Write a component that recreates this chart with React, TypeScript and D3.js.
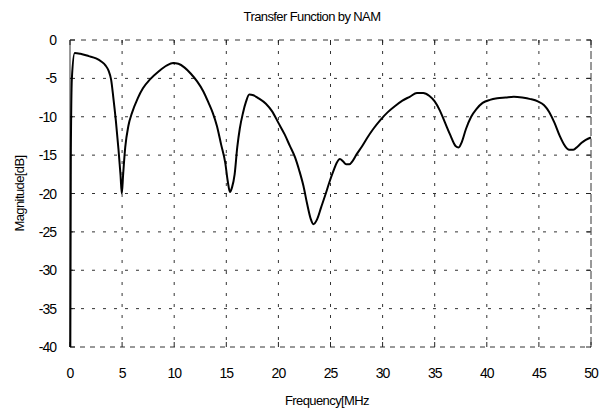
import * as d3 from 'd3';

const freq = [0.03, 0.08, 0.18, 0.45, 1.0, 1.8, 2.5, 3.0, 3.4, 3.7, 3.95, 4.15, 4.4, 4.65, 4.85, 4.97, 5.1, 5.3, 5.6, 5.95, 6.5, 7.0, 7.7, 8.5, 9.3, 9.9, 10.4, 11.0, 11.6, 12.2, 12.8, 13.3, 13.7, 14.1, 14.5, 14.9, 15.15, 15.35, 15.55, 15.8, 16.05, 16.3, 16.6, 16.9, 17.2, 17.6, 18.1, 18.8, 19.4, 20.0, 20.6, 21.1, 21.6, 22.0, 22.4, 22.75, 23.1, 23.35, 23.7, 24.1, 24.5, 24.9, 25.3, 25.6, 25.9, 26.2, 26.5, 26.8, 27.1, 27.5, 28.0, 28.5, 29.1, 29.8, 30.5, 31.2, 31.9, 32.6, 33.3, 33.9, 34.5, 35.0, 35.5, 36.0, 36.5, 37.0, 37.3, 37.6, 38.0, 38.5, 39.0, 39.6, 40.3, 41.0, 41.8, 42.6, 43.4, 44.2, 44.9, 45.5, 46.0, 46.5, 47.0, 47.5, 47.9, 48.3, 48.7, 49.1, 49.5, 50.0];
const magnitude = [-40, -15, -5, -1.7, -1.8, -2.1, -2.4, -2.8, -3.3, -4.0, -5.2, -7.4, -10.5, -14.2, -17.6, -20, -17.5, -14, -11.2, -9.5, -7.6, -6.3, -5.1, -4.1, -3.3, -3.0, -3.1, -3.6, -4.4, -5.4, -6.7, -8.2, -9.5, -11.2, -13.6, -16, -18.5, -19.8, -19.2, -17.5, -14, -11.5, -9.5, -8.0, -7.1, -7.2, -7.6, -8.3, -9.3, -10.8, -12.3, -13.8, -15.3, -17.0, -19.0, -21.3, -23.3, -24.0, -23.4, -21.8, -20.2, -18.5, -17.0, -16.0, -15.5, -15.8, -16.2, -16.2, -15.8, -14.9, -13.9, -12.8, -11.6, -10.4, -9.4, -8.6, -7.9, -7.4, -6.9, -6.9, -7.3, -8.0, -9.2, -10.8, -12.4, -13.8, -14.0, -13.3, -11.6, -10.0, -9.0, -8.2, -7.8, -7.6, -7.5, -7.4, -7.5, -7.7, -8.0, -8.5, -9.4, -10.8, -12.5, -13.8, -14.3, -14.3, -13.9, -13.4, -13.0, -12.7];

const xTicks = [0, 5, 10, 15, 20, 25, 30, 35, 40, 45, 50];
const yTicks = [0, -5, -10, -15, -20, -25, -30, -35, -40];

const title = 'Transfer Function by NAM';
const xLabel = 'Frequency[MHz';
const yLabel = 'Magnitude[dB]';

const W = 606;
const H = 412;
const margin = { top: 40, right: 15, bottom: 65, left: 70 };

const App = () => {
    const x = d3.scaleLinear().domain([0, 50]).range([margin.left, W - margin.right]);
    const y = d3.scaleLinear().domain([-40, 0]).range([H - margin.bottom, margin.top]);

    const pts: [number, number][] = freq.map((f, i) => [f, magnitude[i]]);
    const line = d3.line<[number, number]>()
        .x(d => x(d[0]))
        .y(d => y(d[1]))
        .curve(d3.curveMonotoneX);

    const x0 = x(0), x1 = x(50), y0 = y(-40), y1 = y(0);
    const font = "'Liberation Sans', Arial, sans-serif";

    return (
        <svg width={W} height={H} style={{ position: 'absolute', left: 0, top: 0, background: '#fff' }}>
            <text x={312} y={21} textAnchor="middle" fontFamily={font} fontSize={13} letterSpacing={-0.6}>{title}</text>

            {/* grid */}
            <g stroke="#333" strokeWidth={1} strokeDasharray="3,8">
                {xTicks.slice(1, -1).map(t => (
                    <line key={'gx' + t} x1={x(t)} x2={x(t)} y1={y1} y2={y0} />
                ))}
                {yTicks.slice(1, -1).map(t => (
                    <line key={'gy' + t} x1={x0} x2={x1} y1={y(t)} y2={y(t)} />
                ))}
            </g>

            {/* box */}
            <g stroke="#333" strokeWidth={1} fill="none">
                <line x1={x0} x2={x0} y1={y1} y2={y0} />
                <line x1={x0} x2={x1} y1={y1} y2={y1} strokeDasharray="5,6" />
                <line x1={x0} x2={x1} y1={y0} y2={y0} strokeDasharray="5,5" />
                <line x1={x1} x2={x1} y1={y1} y2={y0} strokeDasharray="8,3" />
            </g>

            {/* ticks */}
            <g stroke="#222" strokeWidth={1}>
                {xTicks.map(t => (
                    <g key={'tx' + t}>
                        <line x1={x(t)} x2={x(t)} y1={y0} y2={y0 - 5} />
                        <line x1={x(t)} x2={x(t)} y1={y1} y2={y1 + 5} />
                    </g>
                ))}
                {yTicks.map(t => (
                    <g key={'ty' + t}>
                        <line x1={x0} x2={x0 + 5} y1={y(t)} y2={y(t)} />
                        <line x1={x1} x2={x1 - 5} y1={y(t)} y2={y(t)} />
                    </g>
                ))}
            </g>

            {/* curve */}
            <path d={line(pts) || ''} fill="none" stroke="#000" strokeWidth={2} strokeLinejoin="round" />

            {/* tick labels */}
            <g fontFamily={font} fontSize={14} letterSpacing={-1} fill="#000">
                {xTicks.map(t => (
                    <text key={'lx' + t} x={x(t)} y={y0 + 31} textAnchor="middle">{t}</text>
                ))}
                {yTicks.map(t => (
                    <text key={'ly' + t} x={56} y={y(t) + 5} textAnchor="end">{t}</text>
                ))}
            </g>

            <text x={327} y={405} textAnchor="middle" fontFamily={font} fontSize={13} letterSpacing={-0.6}>{xLabel}</text>
            <text transform={`translate(24,${(y0 + y1) / 2}) rotate(-90)`} textAnchor="middle" fontFamily={font} fontSize={13} letterSpacing={-0.6}>{yLabel}</text>
        </svg>
    );
};

export default App;
